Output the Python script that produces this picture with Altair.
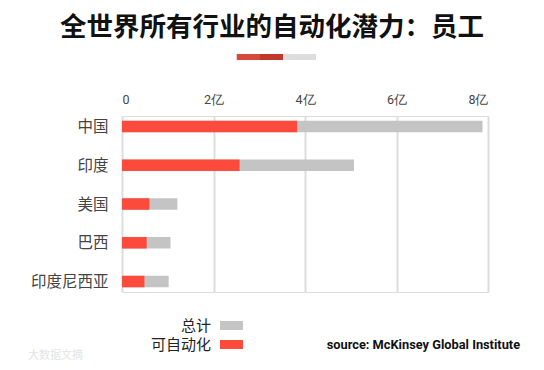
import altair as alt
import pandas as pd

countries = ["中国", "印度", "美国", "巴西", "印度尼西亚"]
total = [7.88, 5.07, 1.21, 1.06, 1.02]          # 亿 employees
automatable = [3.83, 2.57, 0.60, 0.54, 0.49]     # 亿 employees
tick_values = [0, 2, 4, 6, 8]
legend_labels = ["总计", "可自动化"]
title_text = "全世界所有行业的自动化潜力：员工"
source_text = "source: McKinsey Global Institute"
watermark_text = "大数据文摘"

GREY = "#c4c4c4"
RED = "#fc4a3c"
FONT = "Noto Sans CJK SC"

df = pd.DataFrame({"country": countries, "total": total, "auto": automatable})
one = pd.DataFrame({"k": [0]})

W, H = 366, 176

xscale = alt.Scale(domain=[0, 8], nice=False)
yscale = alt.Scale(type="point", padding=0.27)

xaxis = alt.Axis(
    orient="top", values=tick_values, grid=True, gridColor="#dddddd", gridWidth=2,
    domain=False, ticks=False, tickSize=0, labelPadding=10, labelFontSize=12.5,
    labelColor="#444444", labelFont="Roboto",
    labelExpr="datum.value == 0 ? '0' : datum.value + '亿'", title=None,
)
yaxis = alt.Axis(
    domain=False, ticks=False, tickSize=0, grid=False, labelPadding=14,
    labelFontSize=15.5, labelColor="#444444", labelFont=FONT, title=None,
)

bars_total = alt.Chart(df).mark_bar(size=11.5, color=GREY).encode(
    x=alt.X("total:Q", scale=xscale, axis=xaxis),
    y=alt.Y("country:N", sort=countries, scale=yscale, axis=yaxis),
)
bars_auto = alt.Chart(df).mark_bar(size=11.5, color=RED).encode(
    x=alt.X("auto:Q", scale=xscale),
    y=alt.Y("country:N", sort=countries, scale=yscale),
)

title = alt.Chart(one).mark_text(
    text=title_text, font=FONT, fontSize=26.5, fontWeight="bold", color="#111111",
    align="center", baseline="middle",
).encode(x=alt.value(150), y=alt.value(-88))

deco1 = alt.Chart(one).mark_rect(color="#d44a3b").encode(
    x=alt.value(114.7), x2=alt.value(138), y=alt.value(-62), y2=alt.value(-56))
deco2 = alt.Chart(one).mark_rect(color="#c0392b").encode(
    x=alt.value(138), x2=alt.value(161.3), y=alt.value(-62), y2=alt.value(-56))
deco3 = alt.Chart(one).mark_rect(color="#dddddd").encode(
    x=alt.value(161.3), x2=alt.value(194), y=alt.value(-62), y2=alt.value(-56))

leg_rect1 = alt.Chart(one).mark_rect(color=GREY).encode(
    x=alt.value(98), x2=alt.value(121), y=alt.value(205), y2=alt.value(214))
leg_rect2 = alt.Chart(one).mark_rect(color=RED).encode(
    x=alt.value(98), x2=alt.value(121), y=alt.value(224), y2=alt.value(233))
leg_text1 = alt.Chart(one).mark_text(
    text=legend_labels[0], font=FONT, fontSize=15, color="#222222",
    align="right", baseline="middle",
).encode(x=alt.value(89), y=alt.value(209.5))
leg_text2 = alt.Chart(one).mark_text(
    text=legend_labels[1], font=FONT, fontSize=15, color="#222222",
    align="right", baseline="middle",
).encode(x=alt.value(89), y=alt.value(228.5))

source = alt.Chart(one).mark_text(
    text=source_text, font="Roboto", fontSize=12.8, fontWeight="bold", color="#111111",
    align="left", baseline="middle",
).encode(x=alt.value(204.7), y=alt.value(229))

watermark = alt.Chart(one).mark_text(
    text=watermark_text, font=FONT, fontSize=11, color="#e4e4e4",
    align="left", baseline="middle",
).encode(x=alt.value(-94), y=alt.value(240))

chart = alt.layer(
    bars_total, bars_auto, title, deco1, deco2, deco3,
    leg_rect1, leg_rect2, leg_text1, leg_text2, source, watermark,
).properties(
    width=W, height=H,
    autosize=alt.AutoSizeParams(type="none"),
    padding={"left": 114, "top": 108, "right": 48, "bottom": 70},
).configure_view(stroke=None).configure(background="white")

chart.save("out.html", embed_options={"renderer": "svg", "actions": False})
